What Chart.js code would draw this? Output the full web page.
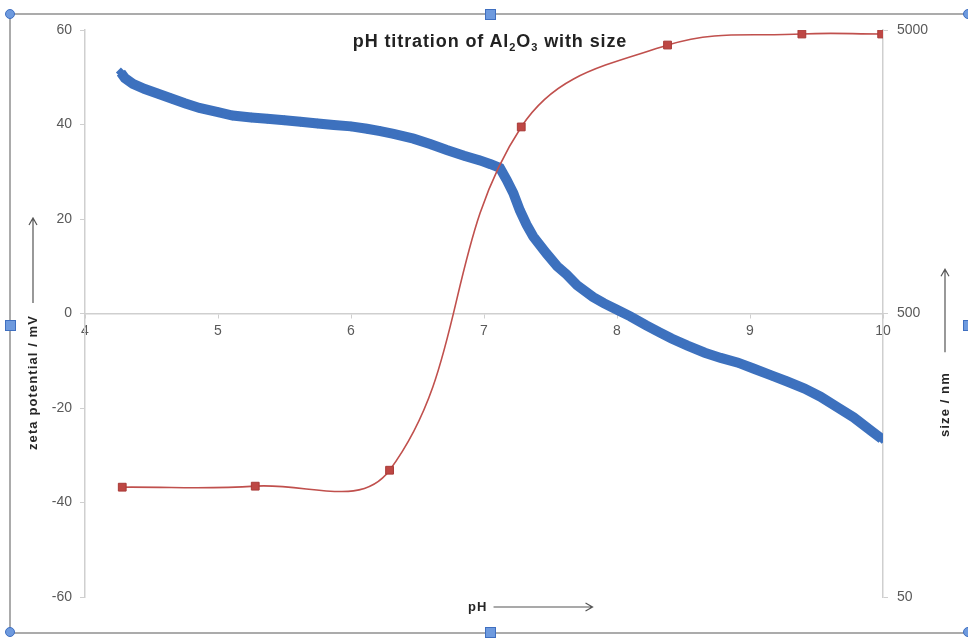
<!DOCTYPE html>
<html lang="en">
<head>
<meta charset="UTF-8">
<title>pH titration of Al2O3 with size</title>
<script src="https://cdn.jsdelivr.net/npm/chart.js"></script>
<style>
  body { margin: 0; background: #fff; }
  #wrap { position: relative; width: 968px; height: 639px; overflow: hidden; }
  #frame { position: absolute; left: 9px; top: 13px; width: 962px; height: 621px; border: 2px solid #ababab; box-sizing: border-box; pointer-events: none; }
  .sq { position: absolute; width: 11px; height: 11px; background: #6e9ade; border: 1px solid #3f6fc0; box-sizing: border-box; }
  .dot { position: absolute; width: 10px; height: 10px; border-radius: 50%; background: #6e9ade; border: 1px solid #3f6fc0; box-sizing: border-box; }
  #title { position: absolute; left: 0; width: 980px; top: 31px; text-align: center; font: bold 18px "Liberation Sans", Arial, sans-serif; letter-spacing: 0.9px; color: #222; }
  #title sub { font-size: 11px; vertical-align: -4px; }
</style>
</head>
<body>
<div id="wrap">
  <canvas id="chart" width="968" height="639"></canvas>
  <div id="title">pH titration of Al<sub>2</sub>O<sub>3</sub> with size</div>
  <div id="frame"></div>
  <div class="sq" style="left:485px;top:9px"></div>
  <div class="sq" style="left:5px;top:320px"></div>
  <div class="sq" style="left:963px;top:320px"></div>
  <div class="sq" style="left:485px;top:627px"></div>
  <div class="dot" style="left:5px;top:9px"></div>
  <div class="dot" style="left:963px;top:9px"></div>
  <div class="dot" style="left:5px;top:627px"></div>
  <div class="dot" style="left:963px;top:627px"></div>
</div>

<script>
  // zeta potential titration (blue)
  const zetaPH = [4.27, 4.30, 4.36, 4.45, 4.55, 4.65, 4.75, 4.86, 5.00, 5.11, 5.25, 5.37, 5.50, 5.62, 5.75, 5.87,
    6.00, 6.12, 6.22, 6.32, 6.47, 6.60, 6.72, 6.85, 6.97, 7.05, 7.12, 7.17, 7.22, 7.27, 7.32, 7.37, 7.47, 7.55,
    7.62, 7.70, 7.82, 7.90, 8.00, 8.10, 8.22, 8.32, 8.41, 8.53, 8.66, 8.78, 8.91, 9.03, 9.16, 9.28, 9.41, 9.53,
    9.66, 9.78, 9.91, 9.99];
  const zetaMV = [51.0, 49.8, 48.6, 47.5, 46.5, 45.5, 44.5, 43.5, 42.6, 41.9, 41.5, 41.2, 40.9, 40.6, 40.2, 39.9,
    39.6, 39.1, 38.6, 38.0, 37.0, 35.8, 34.6, 33.4, 32.4, 31.6, 30.8, 28.3, 25.5, 21.8, 18.8, 16.3, 12.7, 10.0,
    8.3, 6.0, 3.5, 2.2, 0.8, -0.6, -2.5, -4.0, -5.3, -6.8, -8.3, -9.4, -10.4, -11.7, -13.1, -14.4, -15.9, -17.6,
    -19.9, -22.0, -24.8, -26.5];

  // particle size (red)
  const sizePH = [4.28, 5.28, 6.29, 7.28, 8.38, 9.39, 9.99];
  const sizeNM = [122, 123, 140, 2275, 4425, 4840, 4840];

  // tick labels
  const pHTicks = [4, 5, 6, 7, 8, 9, 10];
  const zetaTicks = [-60, -40, -20, 0, 20, 40, 60];
  const sizeTicks = [50, 500, 5000];

  const tickFont = { family: '"Liberation Sans", Arial, sans-serif', size: 14 };
  const axisGrey = '#cfcfcf';

  function drawAxisTitle(ctx, text, x, y, angle, gap, arrowLen) {
    ctx.save();
    ctx.translate(x, y);
    ctx.rotate(angle);
    ctx.textAlign = 'left';
    ctx.textBaseline = 'middle';
    ctx.fillText(text, 0, 0);
    const w = ctx.measureText(text).width + gap;
    ctx.beginPath();
    ctx.moveTo(w, 0);
    ctx.lineTo(w + arrowLen, 0);
    ctx.moveTo(w + arrowLen - 7, -4);
    ctx.lineTo(w + arrowLen, 0);
    ctx.lineTo(w + arrowLen - 7, 4);
    ctx.stroke();
    ctx.restore();
  }

  // axis titles with arrows, like the original
  const axisTitles = {
    id: 'axisTitles',
    afterDraw(chart) {
      const { ctx, chartArea: a } = chart;
      ctx.save();
      ctx.fillStyle = '#262626';
      ctx.strokeStyle = '#555';
      ctx.lineWidth = 1.2;
      ctx.font = 'bold 13px "Liberation Sans", Arial, sans-serif';
      ctx.letterSpacing = '1.1px';
      drawAxisTitle(ctx, 'zeta potential / mV', a.left - 52, a.bottom - 147, -Math.PI / 2, 12, 85);
      drawAxisTitle(ctx, 'size / nm', a.right + 62, a.bottom - 160, -Math.PI / 2, 20, 83);
      drawAxisTitle(ctx, 'pH', a.left + 383, a.bottom + 10, 0, 6, 99);
      ctx.restore();
    }
  };

  new Chart(document.getElementById('chart'), {
    type: 'line',
    data: {
      datasets: [{
        label: 'size',
        data: sizePH.map((p, i) => ({ x: p, y: sizeNM[i] })),
        yAxisID: 'ySize',
        borderColor: '#c0504d',
        borderWidth: 1.6,
        backgroundColor: '#be4744',
        pointStyle: 'rect',
        pointRadius: 5.5,
        pointBorderColor: '#a83a37',
        pointBorderWidth: 1,
        tension: 0.4
      }, {
        label: 'zeta potential',
        data: zetaPH.map((p, i) => ({ x: p, y: zetaMV[i] })),
        yAxisID: 'y',
        borderColor: '#3d71be',
        borderWidth: 10,
        backgroundColor: '#3d71be',
        pointStyle: 'rectRot',
        pointRadius: 5,
        pointBorderWidth: 0,
        tension: 0
      }]
    },
    options: {
      responsive: false,
      animation: false,
      layout: { padding: { top: 30, bottom: 42, left: 0, right: 0 } },
      plugins: { legend: { display: false }, tooltip: { enabled: false } },
      scales: {
        x: {
          type: 'linear',
          min: 4,
          max: 10,
          position: { y: 0 },
          afterBuildTicks: s => { s.ticks = pHTicks.map(v => ({ value: v })); },
          ticks: { color: '#595959', font: tickFont, padding: 5, maxRotation: 0 },
          grid: { drawOnChartArea: false, tickLength: 4, color: axisGrey },
          border: { color: axisGrey, width: 1.5 }
        },
        y: {
          type: 'linear',
          position: 'left',
          min: -60,
          max: 60,
          afterBuildTicks: s => { s.ticks = zetaTicks.map(v => ({ value: v })); },
          afterFit: s => { s.width = 85; },
          ticks: { color: '#595959', font: tickFont, padding: 8 },
          grid: { drawOnChartArea: false, tickLength: 5, color: axisGrey },
          border: { color: axisGrey, width: 1.5 }
        },
        ySize: {
          type: 'logarithmic',
          position: 'right',
          min: 50,
          max: 5000,
          afterBuildTicks: s => { s.ticks = sizeTicks.map(v => ({ value: v })); },
          afterFit: s => { s.width = 85; },
          ticks: { color: '#595959', font: tickFont, padding: 9, callback: v => String(v) },
          grid: { drawOnChartArea: false, tickLength: 5, color: axisGrey },
          border: { color: axisGrey, width: 1.5 }
        }
      }
    },
    plugins: [axisTitles]
  });
</script>
</body>
</html>
